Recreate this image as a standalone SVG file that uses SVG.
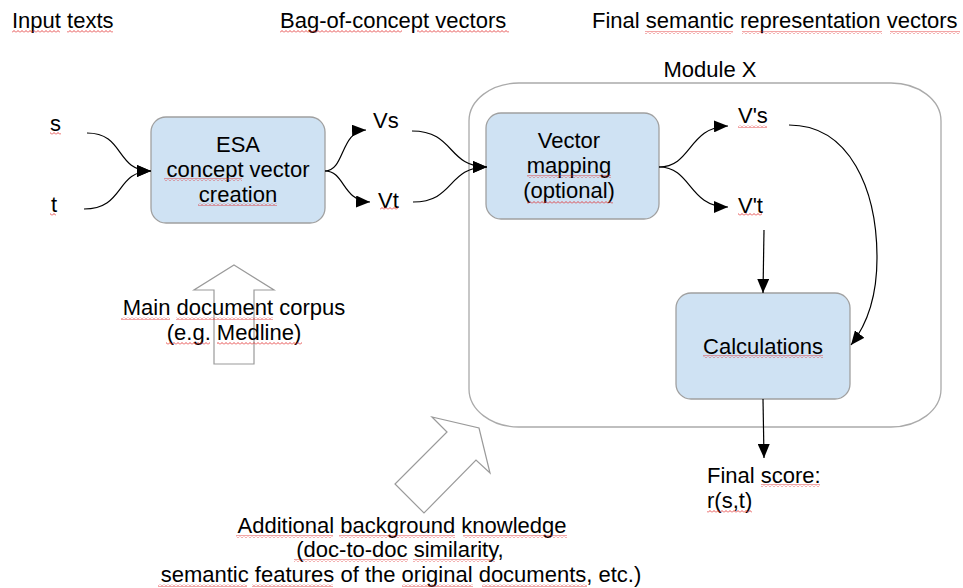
<svg xmlns="http://www.w3.org/2000/svg" width="963" height="588" viewBox="0 0 963 588">
  <style>
    text { font-family: "Liberation Sans", Arial, sans-serif; font-size: 22px; fill: #000; }
    .c { text-anchor: middle; }
    .box { fill: #cfe2f3; stroke: #a0a0a0; stroke-width: 1.3; }
    .module { fill: none; stroke: #aaaaaa; stroke-width: 1.3; }
    .big { fill: #fff; stroke: #9a9a9a; stroke-width: 1.2; }
    .edge { fill: none; stroke: #000; stroke-width: 1.2; marker-end: url(#head); }
    .sq { fill: url(#squiggle); }
  </style>
  <defs>
    <marker id="head" viewBox="0 0 14 12" refX="14" refY="6" markerWidth="14" markerHeight="12" markerUnits="userSpaceOnUse" orient="auto">
      <path d="M0,0 L14,6 L0,12 Z" fill="#000"/>
    </marker>
    <pattern id="squiggle" patternUnits="userSpaceOnUse" width="4" height="3">
      <path d="M0,2.5 L2,0.5 L4,2.5" fill="none" stroke="#e02020" stroke-width="0.8"/>
    </pattern>
  </defs>

  <!-- column headings -->
  <g id="headings">
    <text x="12" y="28">Input texts</text>
    <text x="280" y="28">Bag-of-concept vectors</text>
    <text x="592" y="28">Final semantic representation vectors</text>
  </g>

  <!-- module container -->
  <g id="module-x">
    <rect class="module" x="469" y="83" width="472" height="344" rx="50" ry="38"/>
    <text class="c" x="710" y="77">Module X</text>
  </g>

  <!-- block arrows for knowledge sources -->
  <g id="corpus-arrow">
    <polygon class="big" points="234,265 274,290 254,290 254,364 214,364 214,290 194,290"/>
  </g>
  <g id="background-arrow">
    <polygon class="big" points="479,428 490,473 476,460 424,513 395,484 447,432 432,417"/>
  </g>

  <!-- inputs -->
  <g id="input-s"><text x="50" y="131">s</text></g>
  <g id="input-t"><text x="51" y="212">t</text></g>

  <g id="esa">
    <rect class="box" x="151" y="117" width="174" height="106" rx="15"/>
    <text class="c" x="238" y="152">ESA</text>
    <text class="c" x="238" y="177">concept vector</text>
    <text class="c" x="238" y="202">creation</text>
  </g>

  <g id="vs"><text x="373" y="128">Vs</text></g>
  <g id="vt"><text x="378" y="208">Vt</text></g>

  <g id="vector-mapping">
    <rect class="box" x="486" y="113" width="173" height="106" rx="15"/>
    <text class="c" x="569" y="148">Vector</text>
    <text class="c" x="569" y="173">mapping</text>
    <text class="c" x="569" y="198">(optional)</text>
  </g>

  <g id="vps"><text x="738" y="123">V's</text></g>
  <g id="vpt"><text x="738" y="213">V't</text></g>

  <g id="calculations">
    <rect class="box" x="676" y="293" width="174" height="106" rx="15"/>
    <text class="c" x="763" y="354">Calculations</text>
  </g>

  <g id="final-score">
    <text x="707" y="483">Final score:</text>
    <text x="707" y="508">r(s,t)</text>
  </g>

  <g id="corpus-label">
    <text class="c" x="234" y="315">Main document corpus</text>
    <text class="c" x="234" y="340">(e.g. Medline)</text>
  </g>

  <g id="background-label">
    <text class="c" x="402" y="533">Additional background knowledge</text>
    <text class="c" x="400" y="557">(doc-to-doc similarity,</text>
    <text class="c" x="401" y="582">semantic features of the original documents, etc.)</text>
  </g>

  <!-- connectors -->
  <g id="connectors">
    <path class="edge" d="M87,133 C125,133 115,171 151,171"/>
    <path class="edge" d="M84,209 C125,209 115,171 151,171"/>
    <path class="edge" d="M325,171 C345,171 340,131 366,130"/>
    <path class="edge" d="M325,171 C345,171 342,201 370,202"/>
    <path class="edge" d="M412,131 C455,131 447,167 487,167"/>
    <path class="edge" d="M413,202 C455,202 447,167 487,167"/>
    <path class="edge" d="M659,167 C692,167 688,127 728,126"/>
    <path class="edge" d="M659,167 C692,167 688,207 728,207"/>
    <path class="edge" d="M789,125 C850,125 877,190 877,258 C877,300 866,326 851,345"/>
    <path class="edge" d="M764,230 L763,293"/>
    <path class="edge" d="M763,399 L764,458"/>
  </g>

  <!-- spelling marks under words -->
  <g id="spelling-marks">
    <rect class="sq" x="12" y="30" width="48" height="3"/>
    <rect class="sq" x="67" y="30" width="46" height="3"/>
    <rect class="sq" x="280" y="30" width="122" height="3"/>
    <rect class="sq" x="417" y="30" width="92" height="3"/>
    <rect class="sq" x="645" y="31" width="88" height="3"/>
    <rect class="sq" x="742" y="31" width="140" height="3"/>
    <rect class="sq" x="890" y="31" width="70" height="3"/>
    <rect class="sq" x="50" y="132" width="11" height="3"/>
    <rect class="sq" x="50" y="213" width="6" height="3"/>
    <rect class="sq" x="164" y="178" width="78" height="3"/>
    <rect class="sq" x="198" y="203" width="79" height="3"/>
    <rect class="sq" x="380" y="207" width="18" height="3"/>
    <rect class="sq" x="527" y="175" width="84" height="3"/>
    <rect class="sq" x="527" y="201" width="86" height="3"/>
    <rect class="sq" x="738" y="125" width="29" height="3"/>
    <rect class="sq" x="738" y="213" width="24" height="3"/>
    <rect class="sq" x="703" y="355" width="120" height="3"/>
    <rect class="sq" x="761" y="484" width="59" height="3"/>
    <rect class="sq" x="707" y="510" width="45" height="3"/>
    <rect class="sq" x="121" y="317" width="49" height="3"/>
    <rect class="sq" x="176" y="317" width="97" height="3"/>
    <rect class="sq" x="166" y="342" width="44" height="3"/>
    <rect class="sq" x="217" y="342" width="85" height="3"/>
    <rect class="sq" x="236" y="535" width="97" height="3"/>
    <rect class="sq" x="339" y="535" width="116" height="3"/>
    <rect class="sq" x="463" y="535" width="104" height="3"/>
    <rect class="sq" x="294" y="559" width="114" height="3"/>
    <rect class="sq" x="413" y="559" width="82" height="3"/>
    <rect class="sq" x="158" y="584" width="89" height="3"/>
    <rect class="sq" x="252" y="584" width="81" height="3"/>
    <rect class="sq" x="402" y="584" width="71" height="3"/>
    <rect class="sq" x="482" y="584" width="105" height="3"/>
  </g>
</svg>
